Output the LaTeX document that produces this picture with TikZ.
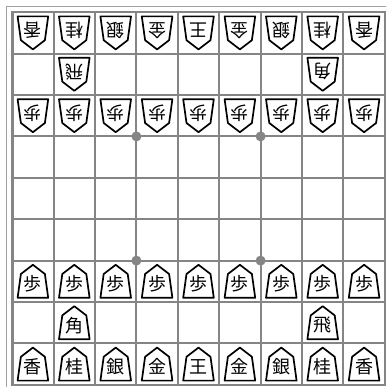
\documentclass[tikz,border=0pt]{standalone}
\usepackage{fontspec}
\newfontfamily\jpfont{Noto Sans CJK JP}
\definecolor{boardgray}{HTML}{858585}
\definecolor{framegray}{HTML}{A0A0A0}
\tikzset{
  gridline/.style={draw=boardgray, line width=2pt},
  borderline/.style={draw=boardgray, line width=2.6pt},
  frameline/.style={draw=framegray, line width=1.2pt},
  piece/.style={draw=black, fill=white, line width=1.7pt, line join=round},
  ptext/.style={font=\jpfont\fontsize{18}{18}\selectfont, inner sep=0pt},
  stardot/.style={fill=boardgray},
}
\newcommand\shogipiece[4]{%
  \begin{scope}[shift={({12.2+41.4*(#1+0.5)},{12.2+41.4*(#2+0.5)})}, rotate=#4]
    \draw[piece] (0,-16.5) -- (12,-7.3) -- (15.3,16.5) -- (-15.3,16.5) -- (-12,-7.3) -- cycle;
    \node[ptext, rotate=#4] (pc-#1-#2) at (0,2.6) {#3};
  \end{scope}}
\begin{document}
\begin{tikzpicture}[x=1pt,y=-1pt]
\useasboundingbox (0,0) rectangle (386,387);
\clip (0,0) rectangle (386,387);
\fill[white] (0,0) rectangle (386,387);
\draw[frameline] (6.7,6.7) rectangle (392,392);
\foreach \k in {1,...,8} {
  \draw[gridline] ({12.2+41.4*\k},12.2) -- ({12.2+41.4*\k},384.8);
  \draw[gridline] (12.2,{12.2+41.4*\k}) -- (384.8,{12.2+41.4*\k});
}
\draw[borderline] (12.2,12.2) rectangle (384.8,384.8);
\foreach \a/\b in {3/3,6/3,3/6,6/6}
  \fill[stardot] ({12.2+41.4*\a},{12.2+41.4*\b}) circle (5pt);
% gote (top)
\foreach \ch [count=\i from 0] in {香,桂,銀,金,王,金,銀,桂,香} {\shogipiece{\i}{0}{\ch}{180}}
\shogipiece{1}{1}{飛}{180}
\shogipiece{7}{1}{角}{180}
\foreach \i in {0,...,8} {\shogipiece{\i}{2}{歩}{180}}
% sente (bottom)
\foreach \i in {0,...,8} {\shogipiece{\i}{6}{歩}{0}}
\shogipiece{1}{7}{角}{0}
\shogipiece{7}{7}{飛}{0}
\foreach \ch [count=\i from 0] in {香,桂,銀,金,王,金,銀,桂,香} {\shogipiece{\i}{8}{\ch}{0}}
\end{tikzpicture}
\end{document}
